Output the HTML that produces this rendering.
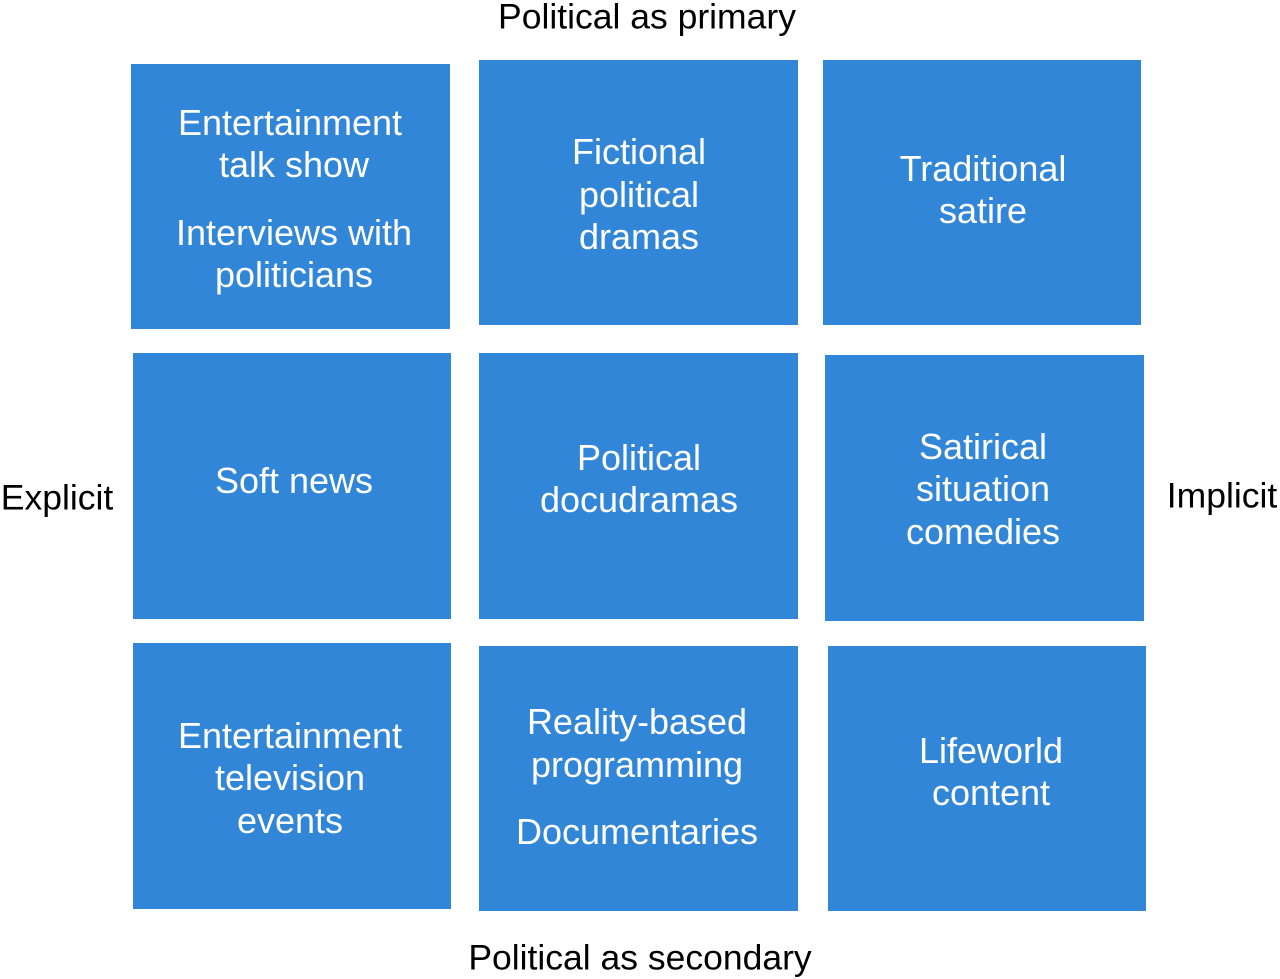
<!DOCTYPE html>
<html><head><meta charset="utf-8"><style>
body{margin:0;width:1280px;height:979px;background:#fff;position:relative;overflow:hidden;font-family:"Liberation Sans",sans-serif}
.b{position:absolute;background:#3186d8}
.t{position:absolute;color:#fff;font-size:36px;white-space:nowrap;transform:translate(-50%,-50%);line-height:1}
.l{position:absolute;color:#000;font-size:35.5px;white-space:nowrap;transform:translate(-50%,-50%);line-height:1}
</style></head><body>
<div class="b" style="left:131px;top:64px;width:319px;height:265px"></div>
<div class="b" style="left:479px;top:60px;width:319px;height:265px"></div>
<div class="b" style="left:823px;top:60px;width:318px;height:265px"></div>
<div class="b" style="left:133px;top:353px;width:318px;height:266px"></div>
<div class="b" style="left:479px;top:353px;width:319px;height:266px"></div>
<div class="b" style="left:825px;top:355px;width:319px;height:266px"></div>
<div class="b" style="left:133px;top:643px;width:318px;height:266px"></div>
<div class="b" style="left:479px;top:646px;width:319px;height:265px"></div>
<div class="b" style="left:828px;top:646px;width:318px;height:265px"></div>

<div class="t" style="left:290px;top:123px">Entertainment</div>
<div class="t" style="left:294px;top:165px">talk show</div>
<div class="t" style="left:294px;top:233px">Interviews with</div>
<div class="t" style="left:294px;top:275px">politicians</div>

<div class="t" style="left:639px;top:152px">Fictional</div>
<div class="t" style="left:639px;top:195px">political</div>
<div class="t" style="left:639px;top:237px">dramas</div>

<div class="t" style="left:983px;top:169px">Traditional</div>
<div class="t" style="left:983px;top:211px">satire</div>

<div class="t" style="left:294px;top:481px">Soft news</div>

<div class="t" style="left:639px;top:458px">Political</div>
<div class="t" style="left:639px;top:500px">docudramas</div>

<div class="t" style="left:983px;top:447px">Satirical</div>
<div class="t" style="left:983px;top:489px">situation</div>
<div class="t" style="left:983px;top:532px">comedies</div>

<div class="t" style="left:290px;top:736px">Entertainment</div>
<div class="t" style="left:290px;top:778px">television</div>
<div class="t" style="left:290px;top:821px">events</div>

<div class="t" style="left:637px;top:722px">Reality-based</div>
<div class="t" style="left:637px;top:765px">programming</div>
<div class="t" style="left:637px;top:832px">Documentaries</div>

<div class="t" style="left:991px;top:751px">Lifeworld</div>
<div class="t" style="left:991px;top:793px">content</div>

<div class="l" style="left:647px;top:17px">Political as primary</div>
<div class="l" style="left:640px;top:958px">Political as secondary</div>
<div class="l" style="left:57px;top:498px">Explicit</div>
<div class="l" style="left:1222px;top:496px">Implicit</div>
</body></html>
